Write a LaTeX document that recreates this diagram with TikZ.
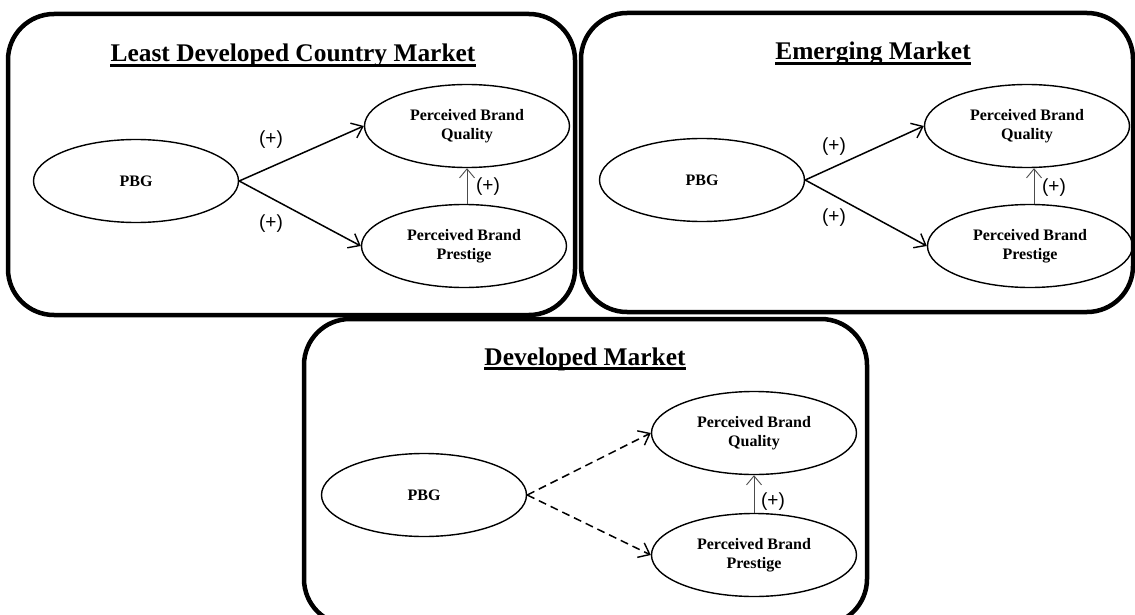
\documentclass[tikz,border=0pt]{standalone}
\usepackage{fontspec}
\setmainfont{Liberation Serif}
\newfontfamily\lblfont{Liberation Sans}
\usetikzlibrary{shapes.geometric,arrows.meta}
\tikzset{
  panel/.style={draw=black,line width=4.5pt,rounded corners=46pt},
  construct/.style={ellipse,draw,line width=1.4pt,minimum width=205pt,minimum height=83pt,inner sep=0pt,align=center,font=\fontsize{16}{19.5}\selectfont\bfseries},
  paneltitle/.style={font=\fontsize{25.4}{30}\selectfont\bfseries,inner sep=0pt},
  uline/.style={line width=2.2pt},
  link/.style={line width=1.5pt,-{Straight Barb[length=10pt,width=16pt,line width=1.4pt]}},
  dlink/.style={link,dash pattern=on 8pt off 5pt},
  vlink/.style={line width=0.9pt,draw=black!70,-{Straight Barb[length=9pt,width=15pt,line width=0.9pt]}},
  sign/.style={font=\lblfont\fontsize{19}{21}\selectfont}
}
\begin{document}
\begin{tikzpicture}[x=1pt,y=-1pt]
\useasboundingbox (0,0) rectangle (1135,615);
% panels
\draw[panel] (8,14) rectangle (575,315);
\draw[panel] (581,13) rectangle (1133,312);
\draw[panel] (304,319) rectangle (867,625);
% titles
\node[paneltitle,anchor=base] (t1) at (293,62) {Least Developed Country Market};
\draw[uline] ([yshift=-3.5pt]t1.base west) -- ([yshift=-3.5pt]t1.base east);
\node[paneltitle,anchor=base] (t2) at (873,60) {Emerging Market};
\draw[uline] ([yshift=-3.5pt]t2.base west) -- ([yshift=-3.5pt]t2.base east);
\node[paneltitle,anchor=base] (t3) at (585,365) {Developed Market};
\draw[uline] ([yshift=-3.5pt]t3.base west) -- ([yshift=-3.5pt]t3.base east);
% panel 1
\node[construct] (p1) at (136,181) {PBG};
\node[construct] (q1) at (467,126) {Perceived Brand\\Quality};
\node[construct] (r1) at (464,246) {Perceived Brand\\Prestige};
\draw[link] (p1.east) -- (q1.west);
\draw[link] (p1.east) -- (r1.west);
\draw[vlink] (r1.north -| 467,0) -- (q1.south);
\node[sign] (s1a) at (271,140) {(+)};
\node[sign] (s1b) at (271,224) {(+)};
\node[sign] (s1c) at (488,187) {(+)};
% panel 2
\node[construct] (p2) at (702,180) {PBG};
\node[construct] (q2) at (1027,126) {Perceived Brand\\Quality};
\node[construct] (r2) at (1030,246) {Perceived Brand\\Prestige};
\draw[link] (p2.east) -- (q2.west);
\draw[link] (p2.east) -- (r2.west);
\draw[vlink] (r2.north -| 1034,0) -- (q2.south -| 1034,0);
\node[sign] (s2a) at (834,147) {(+)};
\node[sign] (s2b) at (834,218) {(+)};
\node[sign] (s2c) at (1054,188) {(+)};
% panel 3
\node[construct] (p3) at (424,495) {PBG};
\node[construct] (q3) at (754,433) {Perceived Brand\\Quality};
\node[construct] (r3) at (754,555) {Perceived Brand\\Prestige};
\draw[dlink] (p3.east) -- (q3.west);
\draw[dlink] (p3.east) -- (r3.west);
\draw[vlink] (r3.north) -- (q3.south);
\node[sign] (s3c) at (773,502) {(+)};
\end{tikzpicture}
\end{document}
